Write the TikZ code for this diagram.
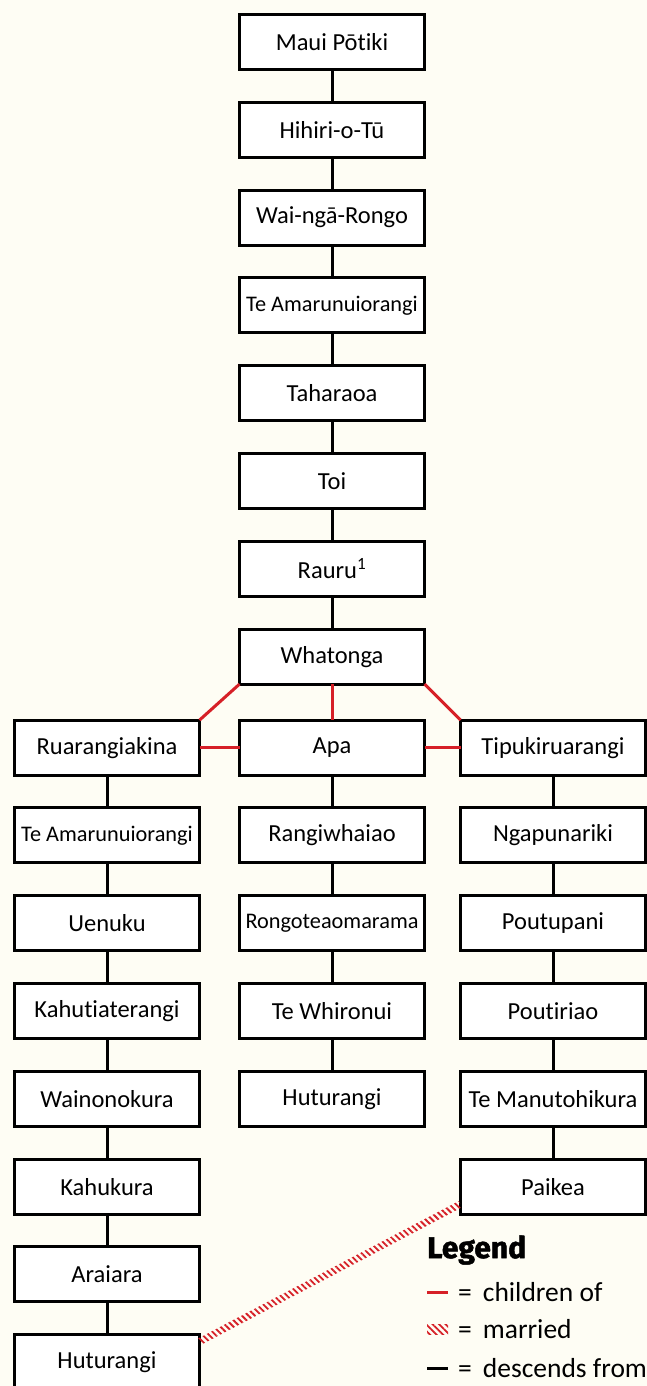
\documentclass[tikz,border=0pt]{standalone}
\usepackage{fontspec}
\setmainfont{Carlito}[Ligatures=NoCommon]
\newfontfamily\headfont{Fira Sans}[BoldFeatures={FakeBold=1.6}]
\usepackage{xcolor}
\usepackage{tikz}
\usetikzlibrary{positioning,calc,patterns.meta}

\definecolor{bgcream}{HTML}{FEFDF4}
\definecolor{kinred}{RGB}{214,32,39}

\begin{document}
\begin{tikzpicture}[
    x=1pt, y=-1pt,
    node distance=32.8pt,
    box/.style={rectangle, draw, fill=white, line width=3pt, outer sep=0pt, minimum width=185pt, minimum height=55pt, inner xsep=1pt, align=center, font=\fontsize{24.5}{28}\selectfont},
    longname/.style={font=\fontsize{22.3}{26}\selectfont},
    descent/.style={line width=3pt},
    childof/.style={line width=3pt, kinred},
    married/.style={pattern={Lines[angle=-45,distance=4.6pt,line width=1.8pt]}, pattern color=kinred},
    legendtext/.style={anchor=west, inner sep=0pt, font=\fontsize{27.5}{31}\selectfont}
]
\fill[bgcream] (0,0) rectangle (647,1386);
\useasboundingbox (0,0) rectangle (647,1386);

% main line
\node[box] (maui) at (332,42) {Maui Pōtiki};
\node[box, below=of maui] (hihiri) {Hihiri-o-Tū};
\node[box, below=of hihiri] (waingarongo) {Wai-ngā-Rongo};
\node[box, longname, below=of waingarongo] (amaru) {Te Amarunuiorangi};
\node[box, below=of amaru] (taharaoa) {Taharaoa};
\node[box, below=of taharaoa] (toi) {Toi};
\node[box, below=of toi] (rauru) {Rauru\textsuperscript{1}};
\node[box, below=of rauru] (whatonga) {Whatonga};

% children of Whatonga
\node[box, below=36pt of whatonga] (apa) {Apa};
\node[box, left=40pt of apa] (ruarangi) {Ruarangiakina};
\node[box, right=36pt of apa] (tipuki) {Tipukiruarangi};

% left line
\node[box, longname, below=of ruarangi] (amaruL) {Te Amarunuiorangi};
\node[box, below=of amaruL] (uenuku) {Uenuku};
\node[box, below=of uenuku] (kahuti) {Kahutiaterangi};
\node[box, below=of kahuti] (wainono) {Wainonokura};
\node[box, below=of wainono] (kahukura) {Kahukura};
\node[box, below=of kahukura] (araiara) {Araiara};
\node[box, below=of araiara] (huturangiL) {Huturangi};

% middle line
\node[box, below=of apa] (rangiwhaiao) {Rangiwhaiao};
\node[box, longname, below=of rangiwhaiao] (rongo) {Rongoteaomarama};
\node[box, below=of rongo] (whironui) {Te Whironui};
\node[box, below=of whironui] (huturangiM) {Huturangi};

% right line
\node[box, below=of tipuki] (ngapu) {Ngapunariki};
\node[box, below=of ngapu] (poutupani) {Poutupani};
\node[box, below=of poutupani] (poutiriao) {Poutiriao};
\node[box, below=of poutiriao] (manuto) {Te Manutohikura};
\node[box, below=of manuto] (paikea) {Paikea};

\draw[descent] (maui) -- (hihiri);
\draw[descent] (hihiri) -- (waingarongo);
\draw[descent] (waingarongo) -- (amaru);
\draw[descent] (amaru) -- (taharaoa);
\draw[descent] (taharaoa) -- (toi);
\draw[descent] (toi) -- (rauru);
\draw[descent] (rauru) -- (whatonga);

\draw[childof] (whatonga.south west) -- (ruarangi.north east);
\draw[childof] (whatonga) -- (apa);
\draw[childof] (whatonga.south east) -- (tipuki.north west);
\draw[childof] (ruarangi) -- (apa);
\draw[childof] (apa) -- (tipuki);

\draw[descent] (ruarangi) -- (amaruL);
\draw[descent] (amaruL) -- (uenuku);
\draw[descent] (uenuku) -- (kahuti);
\draw[descent] (kahuti) -- (wainono);
\draw[descent] (wainono) -- (kahukura);
\draw[descent] (kahukura) -- (araiara);
\draw[descent] (araiara) -- (huturangiL);

\draw[descent] (apa) -- (rangiwhaiao);
\draw[descent] (rangiwhaiao) -- (rongo);
\draw[descent] (rongo) -- (whironui);
\draw[descent] (whironui) -- (huturangiM);

\draw[descent] (tipuki) -- (ngapu);
\draw[descent] (ngapu) -- (poutupani);
\draw[descent] (poutupani) -- (poutiriao);
\draw[descent] (poutiriao) -- (manuto);
\draw[descent] (manuto) -- (paikea);

% marriage band
\coordinate (mA) at ([yshift=-7pt]huturangiL.north east);
\coordinate (mB) at ([yshift=10pt]paikea.south west);
\path[married] ($(mA)!3.5pt!90:(mB)$) -- ($(mB)!3.5pt!-90:(mA)$)
    -- ($(mB)!3.5pt!90:(mA)$) -- ($(mA)!3.5pt!-90:(mB)$) -- cycle;

% legend
\node[anchor=west, inner sep=0pt, font=\fontsize{30}{34}\selectfont\headfont\bfseries] (legend) at (427,1250) {Legend};
\node[legendtext] (lgchild) at (458,1292) {=\hspace{0.4em}children of};
\node[legendtext] (lgmarried) at (458,1329) {=\hspace{0.4em}married};
\node[legendtext] (lgdescent) at (458,1368) {=\hspace{0.4em}descends from};
\draw[childof] ([xshift=-31pt]lgchild.west) -- ([xshift=-10pt]lgchild.west);
\path[married] ([xshift=-31pt,yshift=-5pt]lgmarried.west) rectangle ([xshift=-10pt,yshift=5pt]lgmarried.west);
\draw[descent] ([xshift=-31pt]lgdescent.west) -- ([xshift=-10pt]lgdescent.west);
\end{tikzpicture}
\end{document}
